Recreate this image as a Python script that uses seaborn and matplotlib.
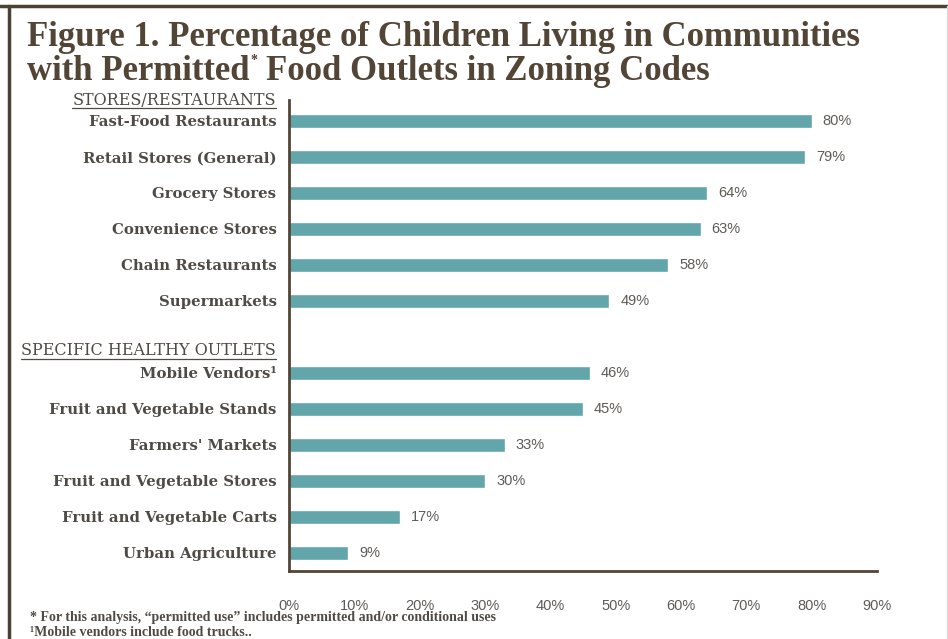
import numpy as np
import pandas as pd
import matplotlib
matplotlib.use("Agg")
import matplotlib.pyplot as plt
import seaborn as sns
from matplotlib.lines import Line2D

# data
categories = [
    "Fast-Food Restaurants", "Retail Stores (General)", "Grocery Stores",
    "Convenience Stores", "Chain Restaurants", "Supermarkets",
    " ",
    "Mobile Vendors\u00b9", "Fruit and Vegetable Stands", "Farmers' Markets",
    "Fruit and Vegetable Stores", "Fruit and Vegetable Carts", "Urban Agriculture",
]
values = [80, 79, 64, 63, 58, 49, np.nan, 46, 45, 33, 30, 17, 9]
group_headers = ["STORES/RESTAURANTS", "SPECIFIC HEALTHY OUTLETS"]
header_slots = [-0.58, 6.39]
x_ticks = [0, 10, 20, 30, 40, 50, 60, 70, 80, 90]

df = pd.DataFrame({"outlet": categories, "pct": values})

BAR = "#62a5aa"
BROWN = "#524536"
LABEL = "#4f4a45"
GRAY = "#5e5a57"

sns.set_style("white")
fig = plt.figure(figsize=(9.48, 6.39), dpi=100)
ax = fig.add_axes([289 / 948, 1 - 571 / 639, (877 - 289) / 948, (571 - 100) / 639])

sns.barplot(data=df, x="pct", y="outlet", order=categories, color=BAR,
            width=0.4, orient="h", saturation=1, ax=ax)

ax.set_xlim(0, 90)
ax.set_ylim(12.5, -0.58)
ax.set_xlabel("")
ax.set_ylabel("")
ax.set_xticks(x_ticks)
ax.set_xticklabels([f"{t}%" for t in x_ticks], family="Liberation Sans",
                   fontsize=10.5, color=GRAY)
ax.set_yticks(range(len(categories)))
ax.set_yticklabels(categories, family="DejaVu Serif", fontweight="bold",
                   fontsize=10.7, color=LABEL)
ax.tick_params(axis="both", length=0)
ax.tick_params(axis="y", pad=9)
ax.tick_params(axis="x", pad=20)
for s in ["top", "right"]:
    ax.spines[s].set_visible(False)
for s in ["left", "bottom"]:
    ax.spines[s].set_color(BROWN)
    ax.spines[s].set_linewidth(2)

for i, v in enumerate(values):
    if np.isnan(v):
        continue
    ax.text(v + 1.7, i, f"{v:.0f}%", va="center", ha="left",
            family="Liberation Sans", fontsize=10.5, color=GRAY)

# group headers, underlined
fig.canvas.draw()
renderer = fig.canvas.get_renderer()
for name, slot in zip(group_headers, header_slots):
    t = ax.text(-13 / 6.53, slot, name, ha="right", va="center",
                family="DejaVu Serif", fontsize=11.5, color=LABEL,
                clip_on=False)
    bb = t.get_window_extent(renderer).transformed(fig.transFigure.inverted())
    fig.add_artist(Line2D([bb.x0, bb.x1], [bb.y0 + 0.001, bb.y0 + 0.001],
                          color=LABEL, lw=0.9, transform=fig.transFigure))

# title
TS = 25
fig.text(27 / 948, 1 - 37 / 639, "Figure 1. Percentage of Children Living in Communities",
         family="Liberation Serif", fontweight="bold", fontsize=TS,
         color=BROWN, va="center")
t1 = fig.text(27 / 948, 1 - 71 / 639, "with Permitted",
              family="Liberation Serif", fontweight="bold", fontsize=TS,
              color=BROWN, va="center")
star = plt.annotate("*", xy=(1, 1), xycoords=t1, xytext=(1, -9),
                    textcoords="offset points", family="Liberation Serif",
                    fontweight="bold", fontsize=10, color=BROWN,
                    va="bottom", ha="left", annotation_clip=False)
fig.canvas.draw()
bb1 = t1.get_window_extent(renderer).transformed(fig.transFigure.inverted())
fig.text(bb1.x1 + 17 / 948, 1 - 71 / 639, "Food Outlets in Zoning Codes",
         family="Liberation Serif", fontweight="bold", fontsize=TS,
         color=BROWN, va="center")

# footnotes
fig.text(30 / 948, 1 - 618 / 639,
         "* For this analysis, \u201cpermitted use\u201d includes permitted and/or conditional uses",
         family="Liberation Serif", fontweight="bold", fontsize=10,
         color=LABEL, va="center")
fig.text(30 / 948, 1 - 632 / 639, "\u00b9Mobile vendors include food trucks..",
         family="Liberation Serif", fontweight="bold", fontsize=10,
         color=LABEL, va="center")

# frame
fig.add_artist(Line2D([0, 1], [1 - 6 / 639, 1 - 6 / 639], color="#4a4232",
                      lw=2.5, transform=fig.transFigure))
fig.add_artist(Line2D([9 / 948, 9 / 948], [0, 1 - 6 / 639], color="#4a4232",
                      lw=2.5, transform=fig.transFigure))
fig.add_artist(Line2D([946.5 / 948, 946.5 / 948], [0, 1 - 6 / 639],
                      color="#dcdcdc", lw=1, transform=fig.transFigure))

fig.savefig("out.png", dpi=100)
